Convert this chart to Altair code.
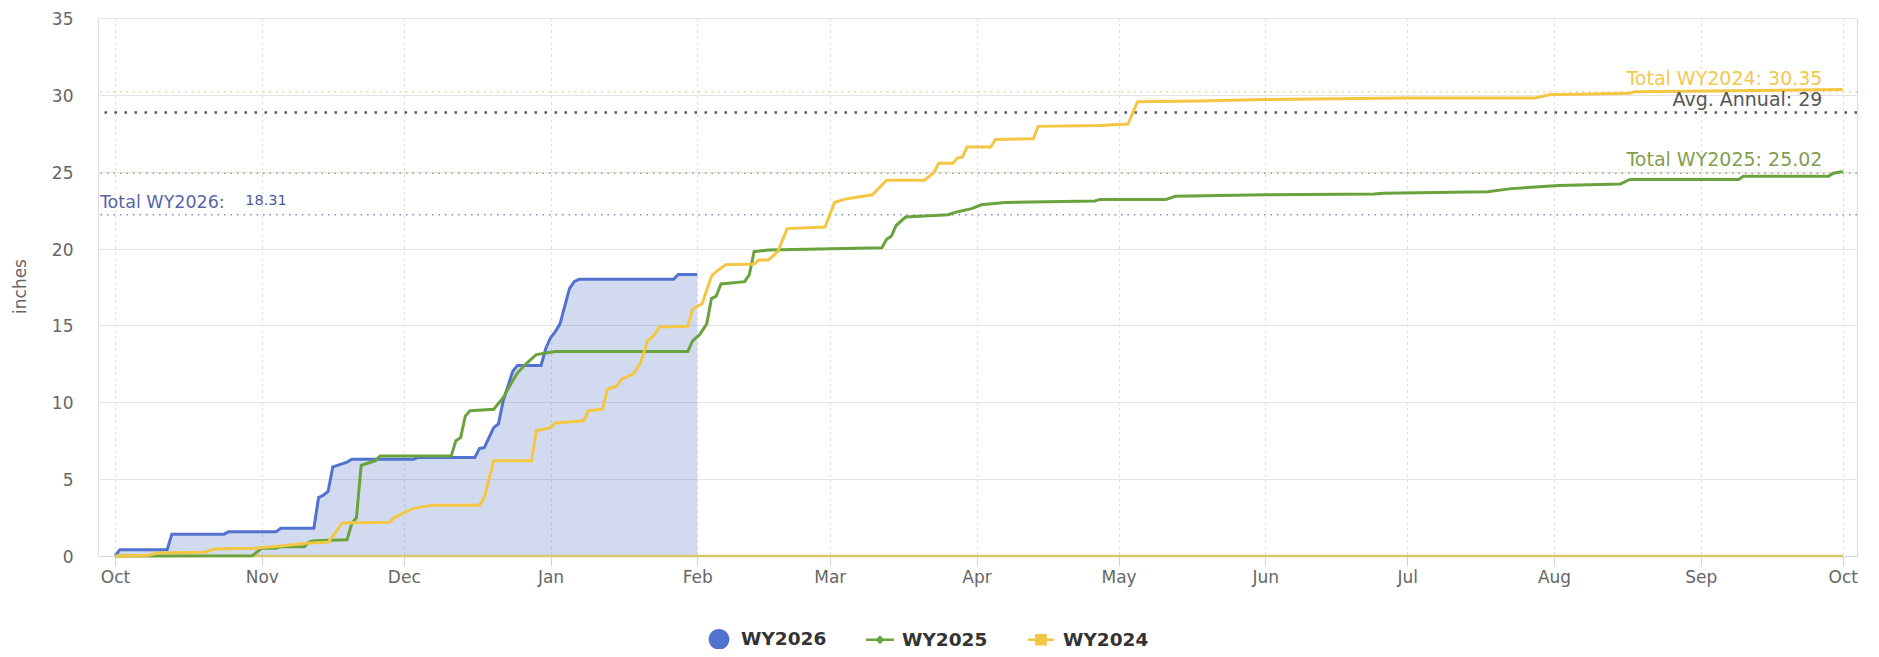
import json
import altair as alt
import pandas as pd

SERIES = ["WY2026", "WY2025", "WY2024"]
COLORS = ["#5272cf", "#6aa33d", "#f3c643"]

# day = days since Oct 1 of the water year
WY2026_DAYS = [0, 1, 11, 12, 23, 24, 34, 35, 42, 43, 44, 45, 46, 47, 49, 50, 63, 64, 76, 77,
               78, 80, 81, 82, 84, 85, 90, 91, 92, 93, 94, 96, 97, 98, 118, 119, 123]
WY2026_VALS = [0, 0.4, 0.4, 1.42, 1.42, 1.57, 1.57, 1.8, 1.8, 3.8, 3.95, 4.2, 5.8, 5.9, 6.1, 6.3, 6.3, 6.4, 6.4, 7.0,
               7.05, 8.35, 8.6, 10.1, 12.0, 12.4, 12.4, 13.5, 14.2, 14.6, 15.1, 17.4, 17.85, 18.0, 18.0, 18.31, 18.31]

WY2025_DAYS = [0, 29, 31, 34, 35, 40, 41, 42, 49, 50, 51, 52, 53, 55, 56, 71, 72, 73, 74, 75,
               80, 82, 84, 85, 87, 89, 93, 121, 122, 123.5, 125, 126, 127, 128, 133, 134, 135, 138, 162, 163,
               164, 165, 167, 170, 176, 178, 181, 183, 188, 207, 208, 222, 224, 243, 266, 268, 290, 295, 300, 305,
               318, 320, 343, 344, 362, 363, 365]
WY2025_VALS = [0, 0.02, 0.5, 0.5, 0.6, 0.6, 0.92, 1.0, 1.05, 2.1, 2.5, 5.9, 6.0, 6.2, 6.5, 6.5, 7.5, 7.7, 9.1, 9.45,
               9.55, 10.3, 11.4, 11.9, 12.55, 13.1, 13.3, 13.3, 14.0, 14.4, 15.1, 16.75, 16.9, 17.7, 17.85, 18.3, 19.8, 19.9, 20.05, 20.6,
               20.8, 21.5, 22.05, 22.1, 22.2, 22.4, 22.6, 22.85, 23.0, 23.1, 23.2, 23.2, 23.4, 23.5, 23.55, 23.6, 23.7, 23.9, 24.0, 24.1,
               24.2, 24.5, 24.5, 24.7, 24.7, 24.9, 25.02]

WY2024_DAYS = [0, 7, 9, 19, 21, 29, 35, 41, 45, 47, 48, 58, 59, 62, 63, 67, 77, 78, 80, 88,
               89, 92, 93, 99, 100, 103, 104, 106, 107, 109.5, 111, 112.5, 114, 115, 121, 122, 123, 124, 126, 127,
               129, 135, 136, 138, 140, 142, 150, 152, 154, 157, 160, 163, 171, 173, 174, 177, 178, 179, 180, 185,
               186, 194, 195, 208, 214, 216, 229, 243, 272, 300, 303, 320, 321, 365]
WY2024_VALS = [0, 0.05, 0.2, 0.25, 0.45, 0.5, 0.65, 0.85, 0.9, 1.7, 2.15, 2.2, 2.5, 2.95, 3.1, 3.3, 3.3, 3.8, 6.2, 6.2,
               8.15, 8.35, 8.65, 8.8, 9.45, 9.55, 10.85, 11.05, 11.5, 11.85, 12.55, 14.0, 14.4, 14.9, 14.95, 16.05, 16.25, 16.4, 18.2, 18.5,
               18.95, 19.0, 19.25, 19.25, 19.8, 21.3, 21.4, 23.0, 23.2, 23.35, 23.5, 24.45, 24.45, 24.95, 25.55, 25.55, 25.9, 25.95, 26.6, 26.6,
               27.1, 27.15, 27.95, 28.0, 28.1, 29.55, 29.6, 29.7, 29.8, 29.8, 30.0, 30.1, 30.2, 30.35]

ZERO_DAYS = [0, 365]
ZERO_VALS = [0, 0]

TICK_DAYS = [0, 31, 61, 92, 123, 151, 182, 212, 243, 273, 304, 335, 365]
TICK_LABELS = ["Oct", "Nov", "Dec", "Jan", "Feb", "Mar", "Apr", "May", "Jun", "Jul", "Aug", "Sep", "Oct"]
Y_TICKS = [0, 5, 10, 15, 20, 25, 30, 35]

# reference (plot) lines
REF_VALUES = [30.2, 28.85, 24.9, 22.2]
REF_COLORS = ["#ddd27a", "#555555", "#a3a163", "#7d8fd0"]

# annotation labels
RIGHT_TEXT = ["Total WY2024: 30.35", "Avg. Annual: 29", "Total WY2025: 25.02"]
RIGHT_VALUE = [30.2, 28.85, 24.9]
RIGHT_COLOR = ["#f0c94f", "#555555", "#7fa04f"]
RIGHT_DAY = [360.7, 360.7, 360.7]

LEFT_TEXT = ["Total WY2026:"]
LEFT_VALUE = [22.2]
LEFT_DAY = [-3.2]
VALUE_TEXT = ["18.31"]
VALUE_DAY = [27.5]

# legend symbols (custom SVG paths, unit box -1..1)
SHAPES = [
    "M-0.69,0A0.69,0.69,0,1,0,0.69,0A0.69,0.69,0,1,0,-0.69,0Z",
    "M-0.93,-0.085H0.93V0.085H-0.93Z M0,-0.3L0.3,0L0,0.3L-0.3,0Z",
    "M-0.87,-0.085H0.87V0.085H-0.87Z M-0.39,-0.39H0.39V0.39H-0.39Z",
]

FONT = "DejaVu Sans"


def frame(days, vals, name):
    return pd.DataFrame({"day": days, "value": vals, "series": name})


lines_df = pd.concat([
    frame(WY2026_DAYS, WY2026_VALS, "WY2026"),
    frame(WY2025_DAYS, WY2025_VALS, "WY2025"),
    frame(WY2024_DAYS, WY2024_VALS, "WY2024"),
], ignore_index=True)
area_df = frame(WY2026_DAYS, WY2026_VALS, "WY2026")
zero_df = frame(ZERO_DAYS, ZERO_VALS, "zero")
ref_df = pd.DataFrame({"value": REF_VALUES, "color": REF_COLORS})
right_df = pd.DataFrame({"day": RIGHT_DAY, "value": RIGHT_VALUE, "label": RIGHT_TEXT, "color": RIGHT_COLOR})
left_df = pd.DataFrame({"day": LEFT_DAY, "value": LEFT_VALUE, "label": LEFT_TEXT})
val_df = pd.DataFrame({"day": VALUE_DAY, "value": LEFT_VALUE, "label": VALUE_TEXT})
legend_df = pd.DataFrame({"series": SERIES})

label_expr = "{}[indexof({}, datum.value)]".format(json.dumps(TICK_LABELS), json.dumps(TICK_DAYS))

x_axis = alt.Axis(values=TICK_DAYS, labelExpr=label_expr, title=None, grid=True,
                  gridDash=[2, 4], gridColor="#d4d4d4", gridWidth=1,
                  domainColor="#ccd6eb", domainWidth=1, tickColor="#ccd6eb", tickSize=10,
                  labelFontSize=17, labelColor="#666666", labelFont=FONT, labelPadding=3,
                  labelOverlap=False, labelFlush=False)
y_axis = alt.Axis(values=Y_TICKS, title="inches", grid=True, gridColor="#e3e3e3", gridWidth=1,
                  domain=False, ticks=False, tickSize=0, labelPadding=25, labelOffset=1.5,
                  labelFontSize=17, labelColor="#666666", labelFont=FONT,
                  titleFont=FONT, titleFontSize=17, titleFontWeight="normal", titleColor="#666666",
                  titleX=-78, titleY=268, titleAlign="center", titleBaseline="middle", titleAngle=270)

X = alt.X("day:Q", scale=alt.Scale(domain=[-3.6, 368.0], nice=False, zero=False), axis=x_axis)
Y = alt.Y("value:Q", scale=alt.Scale(domain=[0, 35], nice=False), axis=y_axis)

area = alt.Chart(area_df).mark_area(color="#4c6cc0", opacity=0.25).encode(x=X, y=Y)

zero = alt.Chart(zero_df).mark_line(color="#d8c86c", strokeWidth=2.5).encode(x=X, y=Y)

ref_fine = alt.Chart(ref_df).transform_filter("datum.color != '#555555'").mark_rule(
    strokeWidth=1.5, strokeDash=[1.5, 5]).encode(y=Y, color=alt.Color("color:N", scale=None))
ref_avg = alt.Chart(ref_df).transform_filter("datum.color == '#555555'").mark_rule(
    strokeWidth=2.5, strokeDash=[2.5, 7.5]).encode(y=Y, color=alt.Color("color:N", scale=None))

lines = alt.Chart(lines_df).mark_line(strokeWidth=3).encode(
    x=X, y=Y,
    color=alt.Color("series:N", scale=alt.Scale(domain=SERIES, range=COLORS), legend=None),
    order=alt.Order("day:Q"),
    detail="series:N",
)

right_text = alt.Chart(right_df).mark_text(align="right", baseline="alphabetic", dy=-7,
                                           fontSize=19, font=FONT).encode(
    x=X, y=Y, text="label:N", color=alt.Color("color:N", scale=None))
left_text = alt.Chart(left_df).mark_text(align="left", baseline="alphabetic", dy=-7,
                                         fontSize=17.5, font=FONT, color="#5a64a8").encode(
    x=X, y=Y, text="label:N")
val_text = alt.Chart(val_df).mark_text(align="left", baseline="alphabetic", dy=-10,
                                       fontSize=14.5, font=FONT, color="#4d58a3").encode(
    x=X, y=Y, text="label:N")

leg = alt.Legend(orient="none", legendX=606, legendY=606, direction="horizontal", title=None,
                 symbolSize=900, labelFontSize=18.5, labelFontWeight="bold", labelColor="#333333",
                 labelFont=FONT, labelOffset=7, columnPadding=38, padding=0,
                 symbolStrokeWidth=0, symbolOpacity=1)
legend_layer = alt.Chart(legend_df).transform_filter("false").mark_point(filled=True, opacity=1).encode(
    color=alt.Color("series:N", scale=alt.Scale(domain=SERIES, range=COLORS), legend=leg),
    shape=alt.Shape("series:N", scale=alt.Scale(domain=SERIES, range=SHAPES), legend=leg),
)

chart = alt.layer(area, zero, ref_fine, ref_avg, lines, right_text, left_text, val_text, legend_layer).resolve_scale(
    color="independent", shape="independent"
).properties(
    width=1759, height=538,
    autosize=alt.AutoSizeParams(type="none"),
    padding={"left": 90, "top": 10, "right": 10, "bottom": 93},
    background="#ffffff",
).configure_view(strokeWidth=0).configure(font=FONT)

chart.save("out.html", embed_options={"renderer": "svg", "actions": False})
